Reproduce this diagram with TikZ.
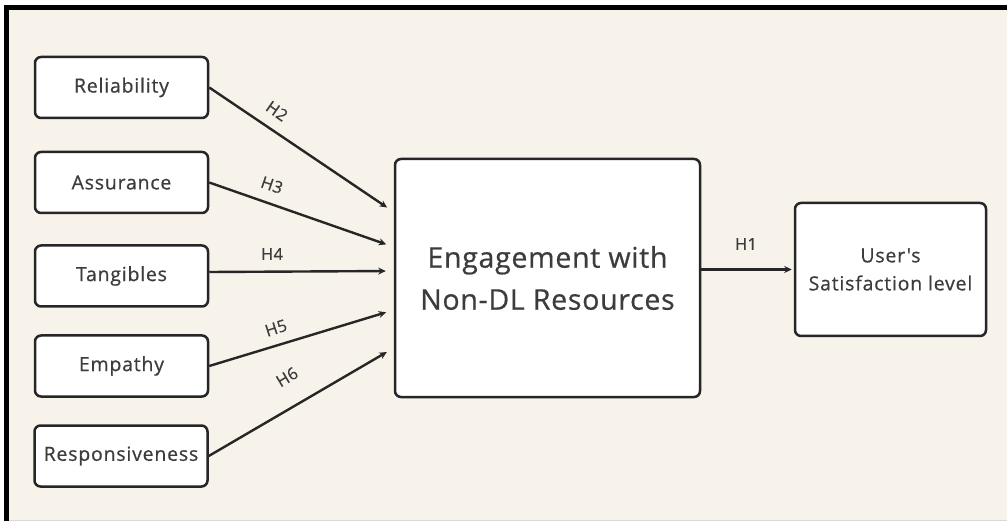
\documentclass[tikz,border=0pt]{standalone}
\usepackage{fontspec}
\setmainfont{Open Sans}
\newfontfamily\boxfont{Open Sans}[LetterSpace=4, FakeBold=0.6]
\newfontfamily\bigfont{Open Sans}[LetterSpace=2.5, FakeBold=0.6]
\newfontfamily\labfont{Open Sans}[LetterSpace=2, FakeBold=0.7]
\usetikzlibrary{arrows.meta}
\definecolor{cream}{HTML}{F7F2EA}
\definecolor{ink}{HTML}{3C3C3C}
\definecolor{edge}{HTML}{262626}
\begin{document}
\begin{tikzpicture}[x=1pt,y=-1pt,
  boxstyle/.style={draw=edge, line width=2.5pt, fill=white, rounded corners=6pt,
    text=ink, inner sep=0pt, align=center},
  smallbox/.style={boxstyle, minimum width=173pt, minimum height=61pt,
    font=\boxfont\fontsize{19.5}{23}\selectfont},
  arr/.style={draw=edge, line width=2.4pt, -{Stealth[length=7.5pt,width=7pt]}},
  hlab/.style={text=ink, inner sep=0pt, font=\labfont\fontsize{16.5}{19}\selectfont}]
\useasboundingbox (0,0) rectangle (1007,521);
\fill[white] (0,0) rectangle (1007,521);
\fill[cream] (7,7) rectangle (1007,521);
\draw[black, line width=4.5pt] (6.5,521) -- (6.5,7.5) -- (1007,7.5);
\draw[black!15, line width=1pt] (9,520.5) -- (1007,520.5);

\node[smallbox] (rel) at (121.5,87.5) {Reliability};
\node[smallbox] (ass) at (121.5,182.5) {Assurance};
\node[smallbox] (tan) at (121.5,276) {Tangibles};
\node[smallbox] (emp) at (121.5,366) {Empathy};
\node[smallbox] (res) at (121,456) {Responsiveness};

\node[boxstyle, minimum width=305pt, minimum height=238pt,
  font=\bigfont\fontsize{28.5}{42}\selectfont] (eng) at (547.5,278) {Engagement with\\Non-DL Resources};
\node[boxstyle, minimum width=191pt, minimum height=133pt,
  font=\boxfont\fontsize{19.5}{28}\selectfont] (sat) at (890.5,269.5) {User's\\Satisfaction level};

\draw[arr, shorten >=8pt] (rel.east) -- ([yshift=66pt]eng.west);
\draw[arr, shorten >=8pt] (ass.east) -- ([yshift=31pt]eng.west);
\draw[arr, shorten >=8pt] ([yshift=4pt]tan.east) -- ([yshift=7pt]eng.west);
\draw[arr, shorten >=8pt] (emp.east) -- ([yshift=-32pt]eng.west);
\draw[arr, shorten >=8pt] (res.east) -- ([yshift=-70pt]eng.west);
\draw[arr, shorten >=2pt] (eng.east |- sat.west) -- (sat.west);

\node[hlab, rotate=-35] (h2) at (277,111) {H2};
\node[hlab, rotate=-19] (h3) at (272,185) {H3};
\node[hlab] (h4) at (272,254) {H4};
\node[hlab, rotate=18] (h5) at (276,328) {H5};
\node[hlab, rotate=31] (h6) at (287,377) {H6};
\node[hlab] (h1) at (746,244) {H1};
\end{tikzpicture}
\end{document}
